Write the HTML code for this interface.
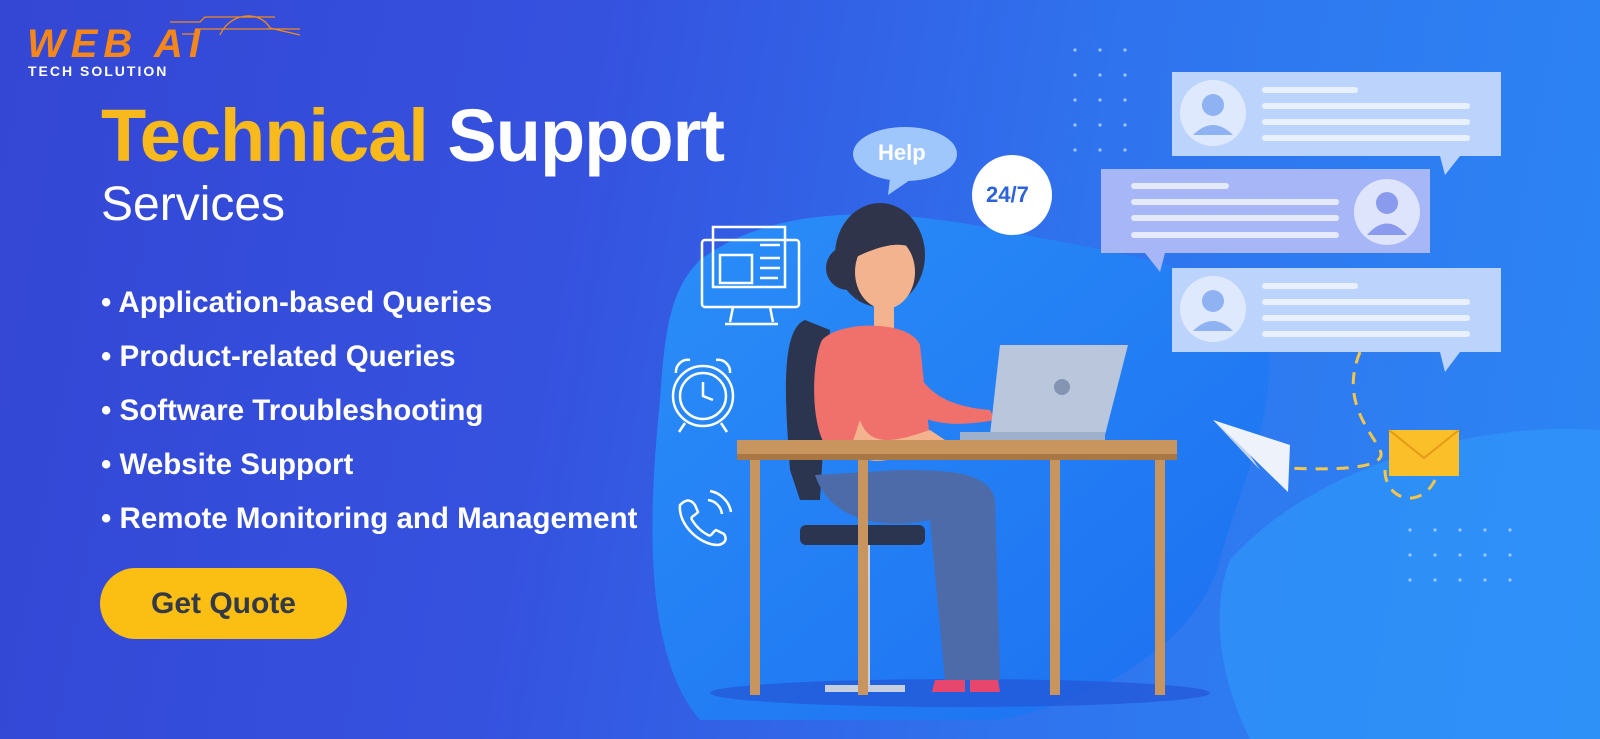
<!DOCTYPE html>
<html><head><meta charset="utf-8"><style>
html,body{margin:0;padding:0}
body{width:1600px;height:739px;overflow:hidden;position:relative;font-family:"Liberation Sans",sans-serif;background:linear-gradient(100deg,#3446d4 0%,#3552df 35%,#2f73ee 65%,#2c86f4 100%)}
.t{position:absolute;color:#fff;white-space:nowrap}
</style></head><body>
<svg width="1600" height="739" style="position:absolute;left:0;top:0">
<defs><linearGradient id="bl" x1="0" y1="0" x2="1" y2="1"><stop offset="0" stop-color="#2a8ef8"/><stop offset="1" stop-color="#1c6ff0"/></linearGradient></defs>
<path d="M700 260 C780 200 900 210 1000 230 C1100 250 1180 260 1260 300 C1290 400 1240 480 1220 560 C1200 640 1100 700 1000 720 L700 720 C640 650 650 500 660 400 C665 330 670 290 700 260Z" fill="url(#bl)"/>
<path d="M1230 560 C1300 480 1450 420 1600 430 L1600 739 L1250 739 C1220 680 1210 610 1230 560Z" fill="#2f95fa" opacity="0.7"/>
<ellipse cx="960" cy="693" rx="250" ry="14" fill="#2456d6" opacity="0.7"/>
<g stroke="#f08a1a" stroke-width="1.3" fill="none">
<path d="M170 22 L200 22 L205 17 L275 17"/><path d="M195 29 L300 29"/><path d="M220 35 C230 12 260 10 270 28 L300 35"/><path d="M182 34 L195 34"/>
</g>
<g fill="#9fc4ff">
<circle cx="1075" cy="50" r="1.6"/><circle cx="1100" cy="50" r="1.6"/><circle cx="1125" cy="50" r="1.6"/>
<circle cx="1075" cy="75" r="1.6"/><circle cx="1100" cy="75" r="1.6"/><circle cx="1125" cy="75" r="1.6"/>
<circle cx="1075" cy="100" r="1.6"/><circle cx="1100" cy="100" r="1.6"/><circle cx="1125" cy="100" r="1.6"/>
<circle cx="1075" cy="125" r="1.6"/><circle cx="1100" cy="125" r="1.6"/><circle cx="1125" cy="125" r="1.6"/>
<circle cx="1075" cy="150" r="1.6"/><circle cx="1100" cy="150" r="1.6"/><circle cx="1125" cy="150" r="1.6"/>
<circle cx="1410" cy="530" r="1.6"/><circle cx="1435" cy="530" r="1.6"/><circle cx="1460" cy="530" r="1.6"/><circle cx="1485" cy="530" r="1.6"/><circle cx="1510" cy="530" r="1.6"/>
<circle cx="1410" cy="555" r="1.6"/><circle cx="1435" cy="555" r="1.6"/><circle cx="1460" cy="555" r="1.6"/><circle cx="1485" cy="555" r="1.6"/><circle cx="1510" cy="555" r="1.6"/>
<circle cx="1410" cy="580" r="1.6"/><circle cx="1435" cy="580" r="1.6"/><circle cx="1460" cy="580" r="1.6"/><circle cx="1485" cy="580" r="1.6"/><circle cx="1510" cy="580" r="1.6"/>
</g>
<g>
<rect x="1172" y="72" width="329" height="84" fill="#bcd3fb"/><path d="M1440 156 L1460 156 L1445 175Z" fill="#bcd3fb"/>
<circle cx="1213" cy="113" r="33" fill="#dfe9fd"/><circle cx="1213" cy="105" r="11" fill="#8eb2f2"/><path d="M1193 135 Q1213 115 1233 135Z" fill="#8eb2f2"/>
<rect x="1262" y="87" width="96" height="6" rx="3" fill="#e9f0fe"/><rect x="1262" y="103" width="208" height="6" rx="3" fill="#e9f0fe"/><rect x="1262" y="119" width="208" height="6" rx="3" fill="#e9f0fe"/><rect x="1262" y="135" width="208" height="6" rx="3" fill="#e9f0fe"/>
<rect x="1101" y="169" width="329" height="84" fill="#a7b6f6"/><path d="M1145 253 L1165 253 L1160 272Z" fill="#a7b6f6"/>
<circle cx="1387" cy="212" r="33" fill="#dfe4fd"/><circle cx="1387" cy="203" r="11" fill="#8a9bee"/><path d="M1367 235 Q1387 212 1407 235Z" fill="#8a9bee"/>
<rect x="1131" y="183" width="98" height="6" rx="3" fill="#e6eafe"/><rect x="1131" y="199" width="208" height="6" rx="3" fill="#e6eafe"/><rect x="1131" y="215" width="208" height="6" rx="3" fill="#e6eafe"/><rect x="1131" y="232" width="208" height="6" rx="3" fill="#e6eafe"/>
<rect x="1172" y="268" width="329" height="84" fill="#bcd3fb"/><path d="M1440 352 L1460 352 L1445 372Z" fill="#bcd3fb"/>
<circle cx="1213" cy="309" r="33" fill="#dfe9fd"/><circle cx="1213" cy="301" r="11" fill="#8eb2f2"/><path d="M1193 331 Q1213 311 1233 331Z" fill="#8eb2f2"/>
<rect x="1262" y="283" width="96" height="6" rx="3" fill="#e9f0fe"/><rect x="1262" y="299" width="208" height="6" rx="3" fill="#e9f0fe"/><rect x="1262" y="315" width="208" height="6" rx="3" fill="#e9f0fe"/><rect x="1262" y="331" width="208" height="6" rx="3" fill="#e9f0fe"/>
</g>
<path d="M1360 352 C1340 400 1370 430 1380 450 C1390 470 1330 470 1285 468 M1385 470 C1385 500 1420 510 1435 480" stroke="#f6c54a" stroke-width="3" stroke-dasharray="12 9" fill="none"/>
<path d="M1213 420 L1290 445 L1288 492 L1250 455Z" fill="#eef3fb"/><path d="M1213 420 L1250 455 L1260 470Z" fill="#c8d4e8"/>
<rect x="1389" y="430" width="70" height="46" fill="#fbbf2a"/><path d="M1389 430 L1424 458 L1459 430" stroke="#e39b14" stroke-width="2" fill="none"/>
<ellipse cx="905" cy="154" rx="52" ry="27" fill="#9fc7fb"/><path d="M890 178 L888 195 L910 180Z" fill="#9fc7fb"/>
<circle cx="1012" cy="195" r="40" fill="#fff"/>
<g stroke="#fff" stroke-width="2.5" fill="none">
<rect x="702" y="240" width="97" height="67" rx="3"/><path d="M733 307 L730 322 M770 307 L773 322 M725 324 L778 324"/>
<rect x="713" y="227" width="72" height="60"/><rect x="720" y="255" width="32" height="28"/>
<path d="M760 245 L780 245 M760 258 L780 258 M760 268 L780 268 M760 278 L778 278"/>
<circle cx="703" cy="396" r="30"/><circle cx="703" cy="396" r="23"/><path d="M703 382 L703 396 L713 400"/>
<path d="M676 373 A12 12 0 0 1 690 360 M730 373 A12 12 0 0 0 716 360 M685 423 L679 432 M721 423 L727 432"/>
<path d="M680 505 C685 500 690 498 695 505 L698 512 C695 516 690 516 692 520 C697 528 702 532 708 535 C712 537 712 532 716 530 L724 534 C728 540 724 544 718 545 C700 545 678 525 680 505Z"/>
<path d="M708 500 A16 16 0 0 1 722 514 M710 491 A26 26 0 0 1 731 512"/>
</g>
<path d="M805 320 C780 330 785 400 790 470 L800 500 L820 500 L830 330Z" fill="#2c3550"/>
<circle cx="848" cy="268" r="22" fill="#30344a"/>
<ellipse cx="880" cy="255" rx="45" ry="52" fill="#30344a"/>
<ellipse cx="885" cy="272" rx="30" ry="37" fill="#f3b38f"/>
<path d="M850 240 C870 215 915 220 918 250 C900 240 880 245 850 260Z" fill="#30344a"/>
<rect x="874" y="300" width="20" height="30" fill="#f3b38f"/>
<path d="M822 340 C840 320 910 320 920 345 L930 440 L825 445 C810 420 812 360 822 340Z" fill="#f0716c"/>
<path d="M905 350 C920 380 930 405 990 410 L995 420 C940 430 915 420 895 395Z" fill="#f0716c"/>
<path d="M860 420 C870 450 900 440 930 430 L945 440 C900 460 870 470 850 450Z" fill="#f3b38f"/>
<path d="M1000 345 L1128 345 L1105 435 L990 435Z" fill="#b9c6dc"/><rect x="960" y="432" width="145" height="8" fill="#9fb0cc"/>
<circle cx="1062" cy="387" r="8" fill="#8494b3"/>
<path d="M815 475 C830 520 880 530 930 520 L945 680 L1000 680 L995 500 C990 470 940 470 900 470Z" fill="#4d6ba8"/>
<path d="M935 680 L965 680 L965 692 L932 692Z M970 680 L998 680 L1000 692 L970 692Z" fill="#e7476d"/>
<rect x="800" y="525" width="125" height="20" rx="6" fill="#2c3550"/>
<rect x="862" y="545" width="8" height="140" fill="#c5cfe0"/><path d="M825 685 L905 685 L905 692 L825 692Z" fill="#c5cfe0"/>
<rect x="737" y="440" width="440" height="14" fill="#c8955f"/><rect x="737" y="454" width="440" height="6" fill="#a87744"/>
<rect x="750" y="460" width="10" height="235" fill="#c8955f"/><rect x="858" y="460" width="10" height="235" fill="#c8955f"/>
<rect x="1050" y="460" width="10" height="235" fill="#c8955f"/><rect x="1155" y="460" width="10" height="235" fill="#c8955f"/>
</svg>
<div class="t" style="left:27px;top:22px;font-size:40px;font-weight:bold;color:#f5861a;letter-spacing:6px;font-style:italic">WEB AI</div>
<div class="t" style="left:28px;top:63px;font-size:14px;font-weight:bold;letter-spacing:2px">TECH SOLUTION</div>
<div class="t" style="left:101px;top:93px;font-size:74px;font-weight:bold;letter-spacing:-1px"><span style="color:#f7b91b">Technical</span> Support</div>
<div class="t" style="left:101px;top:177px;font-size:48px">Services</div>
<div class="t" style="left:101px;top:276px;font-size:29.5px;font-weight:bold;line-height:54px">• Application-based Queries<br>• Product-related Queries<br>• Software Troubleshooting<br>• Website Support<br>• Remote Monitoring and Management</div>
<div style="position:absolute;left:100px;top:568px;width:247px;height:71px;border-radius:36px;background:#fbbf14;color:#333a45;font-size:30px;font-weight:bold;text-align:center;line-height:71px">Get Quote</div>
<div class="t" style="left:878px;top:140px;font-size:22px;font-weight:bold">Help</div>
<div class="t" style="left:986px;top:182px;font-size:22px;font-weight:bold;color:#2d63d8">24/7</div>
</body></html>
